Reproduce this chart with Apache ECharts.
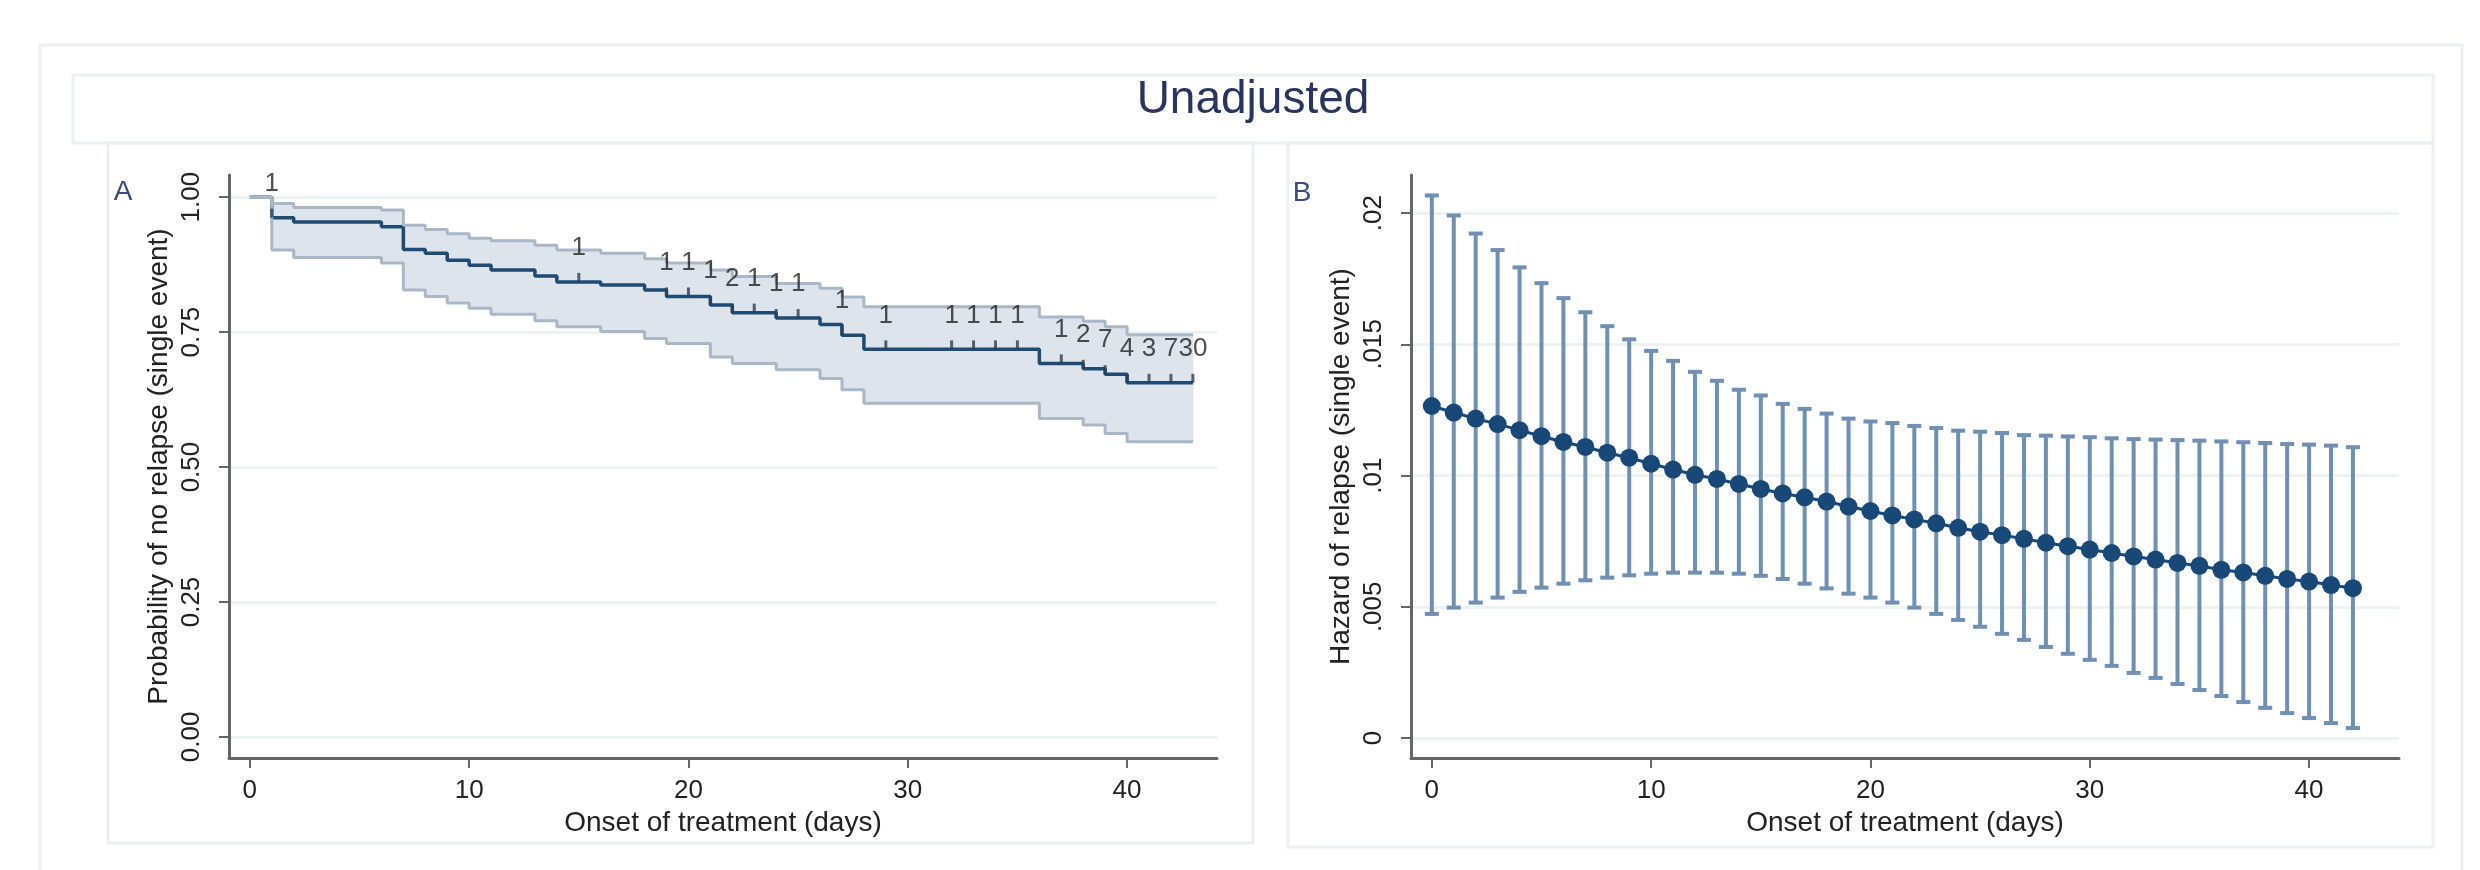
<!DOCTYPE html>
<html>
<head>
<meta charset="utf-8">
<script src="https://cdn.jsdelivr.net/npm/echarts@6/dist/echarts.min.js"></script>
<style>
html,body{margin:0;padding:0;background:#fff;}
#chart{width:2480px;height:870px;}
</style>
</head>
<body>
<div id="chart"></div>
<script>
// ---------- Panel A: Kaplan-Meier (step function) ----------
const kmTime  = [0, 1, 2, 6, 7, 8, 9, 10, 11, 13, 14, 16, 18, 19, 21, 22, 24, 26, 27, 28, 36, 38, 39, 40, 43];
const kmSurv  = [1, .962, .954, .945, .903, .896, .883, .874, .865, .854, .843, .837, .828, .816, .800, .786, .776, .764, .744, .718, .692, .682, .672, .656, .656];
const kmUpper = [1, .988, .981, .976, .948, .940, .932, .924, .919, .911, .902, .896, .886, .878, .865, .853, .840, .831, .815, .797, .778, .770, .760, .745, .745];
const kmLower = [1, .902, .888, .878, .828, .816, .804, .794, .783, .771, .760, .751, .738, .729, .704, .692, .680, .664, .643, .618, .590, .578, .562, .547, .547];

// censored observations: time and number censored
const censorTime  = [1, 15, 19, 20, 21, 22, 23, 24, 25, 27, 29, 32, 33, 34, 35, 37, 38, 39, 40, 41, 42, 43];
const censorCount = [1, 1, 1, 1, 1, 2, 1, 1, 1, 1, 1, 1, 1, 1, 1, 1, 2, 7, 4, 3, 7, 30];

// ---------- Panel B: hazard with CI ----------
const hzTime = [0,1,2,3,4,5,6,7,8,9,10,11,12,13,14,15,16,17,18,19,20,21,22,23,24,25,26,27,28,29,30,31,32,33,34,35,36,37,38,39,40,41,42];
const hzEst = [.01265, .01240, .01217, .01196, .01173, .01150, .01128, .01109, .01087, .01068, .01045, .01023, .01003, .00987, .00968, .00949, .00932, .00917, .00901, .00882, .00865, .00848, .00833, .00818, .00801, .00786, .00773, .00759, .00744, .00731, .00718, .00705, .00692, .00680, .00667, .00656, .00641, .00631, .00618, .00606, .00596, .00583, .00571];
const hzUpper = [.02067, .01991, .01922, .01859, .01793, .01733, .01676, .01622, .01569, .01519, .01475, .01437, .01395, .01361, .01327, .01305, .01273, .01254, .01236, .01217, .01206, .01200, .01189, .01181, .01171, .01167, .01162, .01154, .01152, .01149, .01146, .01142, .01139, .01137, .01135, .01133, .01130, .01127, .01124, .01120, .01118, .01114, .01108];
const hzLower = [.00473, .00497, .00516, .00535, .00557, .00573, .00588, .00601, .00611, .00620, .00626, .00630, .00630, .00630, .00626, .00618, .00606, .00588, .00570, .00550, .00535, .00516, .00497, .00473, .00450, .00424, .00397, .00374, .00347, .00321, .00298, .00275, .00248, .00229, .00206, .00183, .00160, .00137, .00115, .00095, .00076, .00057, .00038];

// ---------- tick labels ----------
const xTicks = [0, 10, 20, 30, 40];
const yTicksA = [0, 0.25, 0.5, 0.75, 1];
const yTicksB = [0, 0.005, 0.01, 0.015, 0.02];
const yLabelsB = ['0', '.005', '.01', '.015', '.02'];

// ---------- texts ----------
const mainTitle = 'Unadjusted';
const xTitle = 'Onset of treatment (days)';
const yTitleA = 'Probability of no relapse (single event)';
const yTitleB = 'Hazard of relapse (single event)';

// ---------- styles ----------
const FONT = "'Liberation Sans', Arial, Helvetica, sans-serif";
const NAVY = '#1f4a72';
const AXIS = '#666666';
const GRID = '#edf2f4';
const FRAME = '#edf0f3';
const TXT = '#222222';

function survAt(t) {
  let s = kmSurv[0];
  for (let i = 0; i < kmTime.length; i++) if (kmTime[i] <= t) s = kmSurv[i];
  return s;
}

// band intervals: [t_start, t_end, lower, upper]
const bandData = kmTime.slice(0, -1).map((t, i) => [t, kmTime[i + 1], kmLower[i], kmUpper[i]]);
const lowerData = kmTime.map((t, i) => [t, kmLower[i]]);
const survData  = kmTime.map((t, i) => [t, kmSurv[i]]);
const upperLine = kmTime.map((t, i) => [t, kmUpper[i]]);
const censorData = censorTime.map((t, i) => [t, survAt(t), censorCount[i]]);

const hzPoints = hzTime.map((t, i) => [t, hzEst[i]]);
const hzBars = hzTime.map((t, i) => [t, hzLower[i], hzUpper[i]]);

function xAxisDef(gridIndex) {
  return {
    type: 'value', gridIndex: gridIndex, min: -0.95, max: 44.1,
    name: xTitle, nameLocation: 'middle', nameGap: 50,
    nameTextStyle: {fontFamily: FONT, fontSize: 28, color: TXT},
    axisLine: {show: true, onZero: false, lineStyle: {color: AXIS, width: 3}},
    axisTick: {show: true, customValues: xTicks, length: 10, lineStyle: {color: AXIS, width: 2}},
    axisLabel: {customValues: xTicks, margin: 20, fontFamily: FONT, fontSize: 26, color: TXT},
    splitLine: {show: false}
  };
}
function yAxisDef(gridIndex, min, max, ticks, fmt, name) {
  return {
    type: 'value', gridIndex: gridIndex, min: min, max: max,
    name: name, nameLocation: 'middle', nameGap: 56, nameRotate: 90,
    nameTextStyle: {fontFamily: FONT, fontSize: 28, color: TXT},
    axisLine: {show: true, onZero: false, lineStyle: {color: AXIS, width: 3}},
    axisTick: {show: true, customValues: ticks, length: 10, lineStyle: {color: AXIS, width: 2}},
    axisLabel: {customValues: ticks, rotate: 90, margin: 24, fontFamily: FONT, fontSize: 26, color: TXT, formatter: fmt},
    splitLine: {show: true, lineStyle: {color: GRID, width: 3}}
  };
}

const chart = echarts.init(document.getElementById('chart'), null, {renderer: 'canvas'});
chart.setOption({
  backgroundColor: '#ffffff',
  animation: false,
  graphic: [
    {type: 'rect', z: -10, shape: {x: 40, y: 45, width: 2422, height: 900}, style: {fill: 'none', stroke: FRAME, lineWidth: 3}},
    {type: 'rect', z: -10, shape: {x: 73, y: 75, width: 2360, height: 68}, style: {fill: 'none', stroke: FRAME, lineWidth: 3}},
    {type: 'rect', z: -10, shape: {x: 108, y: 143, width: 1145, height: 700}, style: {fill: 'none', stroke: FRAME, lineWidth: 3}},
    {type: 'rect', z: -10, shape: {x: 1288, y: 143, width: 1145, height: 704}, style: {fill: 'none', stroke: FRAME, lineWidth: 3}},
    {type: 'text', x: 1253, y: 100, style: {text: mainTitle, fontFamily: FONT, fontSize: 46, fill: '#28355f', textAlign: 'center', textVerticalAlign: 'middle'}},
    {type: 'text', x: 123, y: 192, style: {text: 'A', fontFamily: FONT, fontSize: 28, fill: '#3b4a78', textAlign: 'center', textVerticalAlign: 'middle'}},
    {type: 'text', x: 1302, y: 193, style: {text: 'B', fontFamily: FONT, fontSize: 28, fill: '#3b4a78', textAlign: 'center', textVerticalAlign: 'middle'}}
  ],
  grid: [
    {left: 229, top: 175, width: 988, height: 583, containLabel: false, outerBoundsMode: 'none'},
    {left: 1411, top: 175, width: 988, height: 583, containLabel: false, outerBoundsMode: 'none'}
  ],
  xAxis: [xAxisDef(0), xAxisDef(1)],
  yAxis: [
    yAxisDef(0, -0.039, 1.041, yTicksA, v => v.toFixed(2), yTitleA),
    yAxisDef(1, -0.00076, 0.02145, yTicksB, v => {
      let best = 0;
      yTicksB.forEach((t, i) => { if (Math.abs(t - v) < Math.abs(yTicksB[best] - v)) best = i; });
      return yLabelsB[best];
    }, yTitleB)
  ],
  series: [
    // CI band as step rectangles
    {type: 'custom', xAxisIndex: 0, yAxisIndex: 0, data: bandData, z: 2, silent: true,
     encode: {x: [0, 1], y: [2, 3]},
     renderItem: function (params, api) {
       const a = api.coord([api.value(0), api.value(3)]);
       const b = api.coord([api.value(1), api.value(2)]);
       return {type: 'rect', shape: {x: a[0] - 0.5, y: a[1], width: b[0] - a[0] + 1, height: b[1] - a[1]},
               style: {fill: '#dde4ec', stroke: null}};
     }},
    // survival
    {type: 'line', xAxisIndex: 0, yAxisIndex: 0, data: survData, step: 'end', symbol: 'none',
     lineStyle: {color: NAVY, width: 3.5}, z: 3},
    // CI bounds
    {type: 'line', xAxisIndex: 0, yAxisIndex: 0, data: upperLine, step: 'end', symbol: 'none',
     lineStyle: {color: '#a9b7c6', width: 3}, z: 4},
    {type: 'line', xAxisIndex: 0, yAxisIndex: 0, data: lowerData, step: 'end', symbol: 'none',
     lineStyle: {color: '#a9b7c6', width: 3}, z: 4},
    // censor ticks + counts
    {type: 'scatter', xAxisIndex: 0, yAxisIndex: 0, data: censorData, symbol: 'rect', symbolSize: [3, 9], symbolOffset: [0, -4.5],
     itemStyle: {color: '#2b3f55'}, z: 5,
     label: {show: true, position: 'top', distance: 12, fontFamily: FONT, fontSize: 26, color: '#222',
             formatter: p => String(p.value[2])}},
    // Panel B error bars
    {type: 'custom', xAxisIndex: 1, yAxisIndex: 1, data: hzBars, z: 3,
     encode: {x: 0, y: [1, 2]},
     renderItem: function (params, api) {
       const x = api.value(0), lo = api.value(1), hi = api.value(2);
       const p1 = api.coord([x, hi]), p2 = api.coord([x, lo]);
       const hw = 7;
       const st = {stroke: '#6f90b2', lineWidth: 4};
       return {type: 'group', children: [
         {type: 'line', shape: {x1: p1[0], y1: p1[1], x2: p2[0], y2: p2[1]}, style: st},
         {type: 'line', shape: {x1: p1[0] - hw, y1: p1[1], x2: p1[0] + hw, y2: p1[1]}, style: st},
         {type: 'line', shape: {x1: p2[0] - hw, y1: p2[1], x2: p2[0] + hw, y2: p2[1]}, style: st}
       ]};
     }},
    // Panel B point estimates
    {type: 'line', xAxisIndex: 1, yAxisIndex: 1, data: hzPoints, symbol: 'circle', symbolSize: 18, showAllSymbol: true,
     itemStyle: {color: '#184878'}, lineStyle: {color: '#184878', width: 3}, z: 5}
  ]
});
</script>
</body>
</html>
